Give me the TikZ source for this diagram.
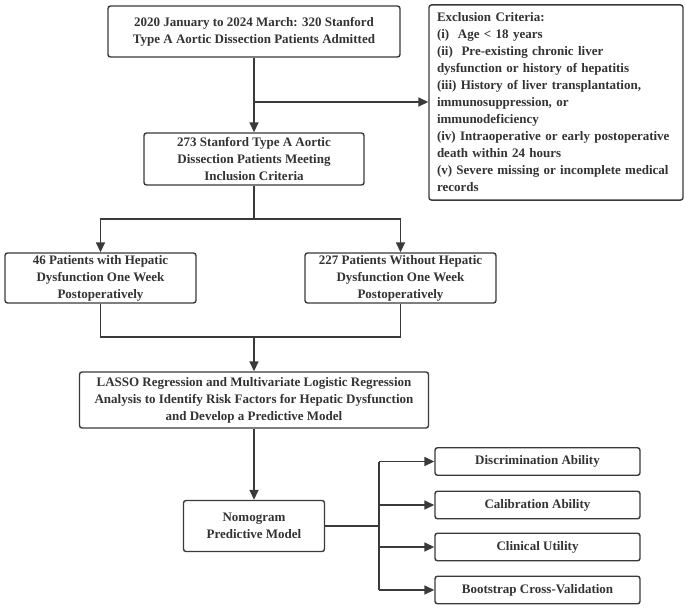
\documentclass[tikz,border=0pt]{standalone}
\usepackage{fontspec}
\setmainfont{Liberation Serif}
\usetikzlibrary{arrows.meta}
\definecolor{ink}{HTML}{333333}
\definecolor{edge}{HTML}{3A3A3A}
\tikzset{
  box/.style={draw=edge, line width=1.4pt, rounded corners=2.5pt, fill=white,
    text=ink, font=\bfseries\fontsize{13}{17}\selectfont, align=center,
    inner sep=2pt, minimum width=#1},
  box/.default=100pt,
  conn/.style={draw=edge, line width=1.6pt},
  arr/.style={conn, -{Triangle[length=10pt,width=9pt]}},
}
\begin{document}
\begin{tikzpicture}[x=1pt,y=-1pt]
\useasboundingbox (0,0) rectangle (685,608);
\node[box=292pt, minimum height=51pt] (b1) at (254,31.5)
  {2020 January to 2024 March: 320 Stanford\\Type A Aortic Dissection Patients Admitted};
\node[box=254pt, minimum height=193pt, align=left, inner sep=8pt, text width=238pt] (ex) at (556,102.5)
  {Exclusion Criteria:\\
   (i)\ \ Age < 18 years\\
   (ii)\ \ Pre-existing chronic liver\\
   dysfunction or history of hepatitis\\
   (iii) History of liver transplantation,\\
   immunosuppression, or\\
   immunodeficiency\\
   (iv) Intraoperative or early postoperative\\
   death within 24 hours\\
   (v) Severe missing or incomplete medical\\
   records};
\node[box=220pt, minimum height=52pt] (b2) at (254,159)
  {273 Stanford Type A Aortic\\Dissection Patients Meeting\\Inclusion Criteria};
\node[box=191pt, minimum height=50pt] (l) at (100.5,278)
  {46 Patients with Hepatic\\Dysfunction One Week\\Postoperatively};
\node[box=191pt, minimum height=50pt] (r) at (400.5,278)
  {227 Patients Without Hepatic\\Dysfunction One Week\\Postoperatively};
\node[box=349pt, minimum height=56pt] (la) at (254,400)
  {LASSO Regression and Multivariate Logistic Regression\\Analysis to Identify Risk Factors for Hepatic Dysfunction\\and Develop a Predictive Model};
\node[box=141pt, minimum height=51pt] (nm) at (254,526)
  {Nomogram\\Predictive Model};
\node[box=205pt, minimum height=27.5pt] (d1) at (537.5,461.5) {Discrimination Ability};
\node[box=205pt, minimum height=27.5pt] (d2) at (537.5,505) {Calibration Ability};
\node[box=205pt, minimum height=27.5pt] (d3) at (537.5,547) {Clinical Utility};
\node[box=205pt, minimum height=27.5pt] (d4) at (537.5,590) {Bootstrap Cross-Validation};

\coordinate (br) at (254,102);
\coordinate (sp) at (254,219);
\coordinate (jn) at (254,337);
\coordinate (hub) at (379,526);

\draw[arr] (b1.south) -- (b2.north);
\draw[arr] (br) -- (br -| ex.west);
\draw[conn] (b2.south) -- (sp);
\draw[arr] (sp) -| (l.north);
\draw[arr] (sp) -| (r.north);
\draw[conn] (l.south) |- (jn) -| (r.south);
\draw[arr] (jn) -- (la.north);
\draw[arr] (la.south) -- (nm.north);
\draw[conn] (nm.east) -- (hub);
\draw[conn] (hub |- d1.west) -- (hub |- d4.west);
\draw[arr] (hub |- d1.west) -- (d1.west);
\draw[arr] (hub |- d2.west) -- (d2.west);
\draw[arr] (hub |- d3.west) -- (d3.west);
\draw[arr] (hub |- d4.west) -- (d4.west);
\end{tikzpicture}
\end{document}
